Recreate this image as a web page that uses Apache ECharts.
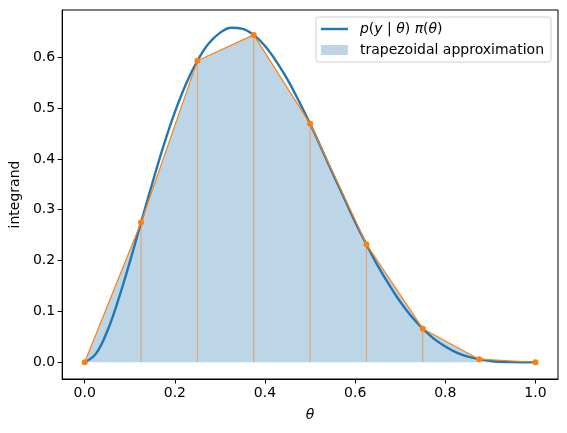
<!DOCTYPE html>
<html>
<head>
<meta charset="utf-8">
<script src="https://cdn.jsdelivr.net/npm/echarts@6/dist/echarts.min.js"></script>
<style>
  html, body { margin: 0; padding: 0; background: #fff; }
  #main { width: 567px; height: 433px; }
</style>
</head>
<body>
<div id="main"></div>
<script>
// smooth integrand
var curveTheta = [0, 0.025, 0.05, 0.075, 0.1, 0.125, 0.15, 0.175, 0.2, 0.225,
    0.25, 0.275, 0.3, 0.325, 0.35, 0.375, 0.4, 0.425, 0.45, 0.475,
    0.5, 0.525, 0.55, 0.575, 0.6, 0.625, 0.65, 0.675, 0.7, 0.725,
    0.75, 0.775, 0.8, 0.825, 0.85, 0.875, 0.9, 0.925, 0.95, 0.975, 1.0];
var curveValues = [0, 0.017, 0.061, 0.124, 0.197, 0.275, 0.352, 0.426, 0.492, 0.548,
    0.593, 0.627, 0.648, 0.658, 0.656, 0.644, 0.622, 0.592, 0.556, 0.514,
    0.469, 0.421, 0.372, 0.324, 0.276, 0.232, 0.190, 0.153, 0.119, 0.090,
    0.066, 0.046, 0.031, 0.019, 0.011, 0.006, 0.0024, 0.0008, 0.0002, 0.00001, 0];

// trapezoid nodes (orange dots)
var nodeTheta = [0, 0.125, 0.25, 0.375, 0.5, 0.625, 0.75, 0.875, 1.0];
var nodeValues = [0, 0.275, 0.593, 0.644, 0.469, 0.232, 0.066, 0.006, 0];

var xTicks = [0, 0.2, 0.4, 0.6, 0.8, 1.0];
var yTicks = [0, 0.1, 0.2, 0.3, 0.4, 0.5, 0.6];

var curveName = 'p(y | θ) π(θ)';
var trapName = 'trapezoidal approximation';

var blue = '#1f77b4';
var orange = '#ff7f0e';
var fill = '#bcd6e8';
var font = 'DejaVu Sans';
var fs = 14;

function pairs(xs, ys) {
    var out = [];
    for (var i = 0; i < xs.length; i++) {
        out.push([xs[i], ys[i]]);
    }
    return out;
}

var series = [
    {
        name: trapName,
        type: 'line',
        data: pairs(nodeTheta, nodeValues),
        showSymbol: false,
        lineStyle: { width: 0, color: fill },
        itemStyle: { color: fill },
        areaStyle: { color: fill, opacity: 1, origin: 0 },
        z: 1
    }
];

// thin verticals under each interior node
for (var i = 1; i < nodeTheta.length - 1; i++) {
    series.push({
        name: 'v' + i,
        type: 'line',
        data: [[nodeTheta[i], 0], [nodeTheta[i], nodeValues[i]]],
        showSymbol: false,
        silent: true,
        lineStyle: { width: 1, color: '#eb9d62' },
        z: 2
    });
}

series.push({
    name: curveName,
    type: 'line',
    data: pairs(curveTheta, curveValues),
    showSymbol: false,
    smooth: 0.4,
    lineStyle: { width: 2.4, color: blue },
    itemStyle: { color: blue },
    z: 3
});
series.push({
    name: 'nodes',
    type: 'line',
    data: pairs(nodeTheta, nodeValues),
    symbol: 'circle',
    symbolSize: 6,
    lineStyle: { width: 1.2, color: orange },
    itemStyle: { color: orange },
    z: 4
});

var chart = echarts.init(document.getElementById('main'));
var option = {
    backgroundColor: '#fff',
    animation: false,
    textStyle: { fontFamily: font },
    grid: {
        left: 62, right: 9, top: 10, bottom: 54,
        show: true, borderColor: '#000', borderWidth: 1, backgroundColor: 'transparent'
    },
    legend: {
        orient: 'vertical',
        right: 16,
        top: 17,
        padding: [5, 7, 5, 5],
        itemGap: 7,
        itemWidth: 27,
        itemHeight: 10,
        borderColor: '#d0d0d0',
        borderWidth: 1,
        borderRadius: 3,
        backgroundColor: 'rgba(255,255,255,0.8)',
        textStyle: {
            fontFamily: font,
            fontSize: fs,
            color: '#000',
            padding: [0, 0, 0, 7],
            rich: {
                i: { fontFamily: font, fontStyle: 'italic', fontSize: fs, color: '#000' }
            }
        },
        formatter: function (name) {
            if (name === curveName) {
                return '{i|p}({i|y} | {i|θ}) {i|π}({i|θ})';
            }
            return name;
        },
        data: [
            { name: curveName, icon: 'path://M0,3.8 L27,3.8 L27,6.2 L0,6.2 Z', itemStyle: { color: blue } },
            { name: trapName, icon: 'rect', itemStyle: { color: fill } }
        ]
    },
    xAxis: {
        type: 'value',
        min: -0.05,
        max: 1.05,
        name: 'θ',
        nameLocation: 'middle',
        nameGap: 29,
        nameTextStyle: { fontFamily: font, fontStyle: 'italic', fontSize: fs, color: '#000' },
        splitLine: { show: false },
        axisLine: { onZero: false, lineStyle: { color: '#000', width: 1 } },
        axisTick: { customValues: xTicks, length: 4.5, lineStyle: { color: '#000' } },
        axisLabel: {
            customValues: xTicks,
            color: '#000',
            fontSize: fs,
            margin: 7,
            formatter: function (v) { return v.toFixed(1); }
        }
    },
    yAxis: {
        type: 'value',
        min: -0.033,
        max: 0.693,
        name: 'integrand',
        nameLocation: 'middle',
        nameGap: 38,
        nameTextStyle: { fontFamily: font, fontSize: fs, color: '#000' },
        splitLine: { show: false },
        axisLine: { show: true, onZero: false, lineStyle: { color: '#000', width: 1 } },
        axisTick: { show: true, customValues: yTicks, length: 4.5, lineStyle: { color: '#000' } },
        axisLabel: {
            customValues: yTicks,
            color: '#000',
            fontSize: fs,
            margin: 7,
            formatter: function (v) { return v.toFixed(1); }
        }
    },
    series: series
};
chart.setOption(option);
</script>
</body>
</html>
